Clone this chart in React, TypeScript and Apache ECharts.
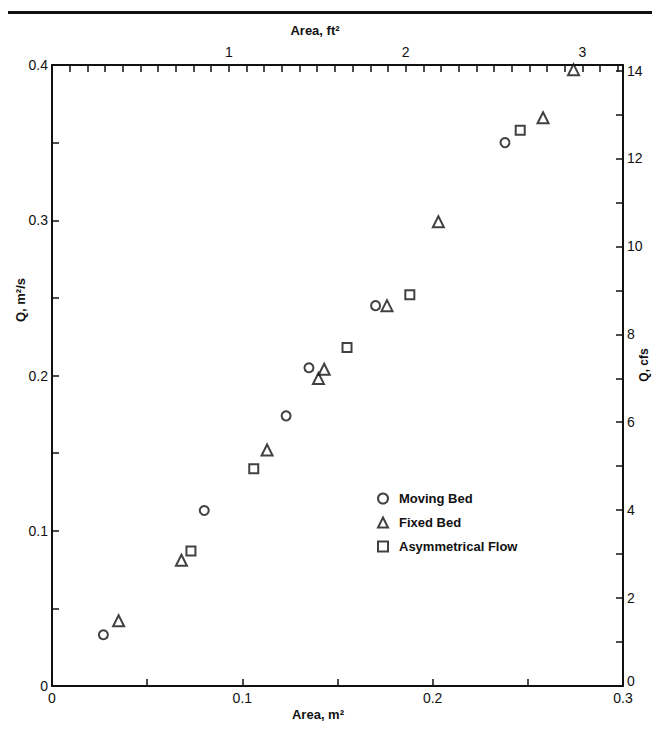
import React, { useEffect, useRef } from "react";
import * as echarts from "echarts";

// Flow area (m²) and discharge Q (m³/s) for each test series
const movingBedArea = [0.027, 0.08, 0.123, 0.135, 0.17, 0.238];
const movingBedQ = [0.033, 0.113, 0.174, 0.205, 0.245, 0.35];

const fixedBedArea = [0.035, 0.068, 0.113, 0.14, 0.143, 0.176, 0.203, 0.258, 0.274];
const fixedBedQ = [0.042, 0.081, 0.152, 0.198, 0.204, 0.245, 0.299, 0.366, 0.397];

const asymArea = [0.073, 0.106, 0.155, 0.188, 0.246];
const asymQ = [0.087, 0.14, 0.218, 0.252, 0.358];

const seriesNames = ["Moving Bed", "Fixed Bed", "Asymmetrical Flow"];

// Unit conversions for the secondary (imperial) axes
const M2_PER_FT2 = 0.09290304;
const M3S_PER_CFS = 0.0283168;
const AREA_MAX_M2 = 0.3;
const Q_MAX_M3S = 0.4;

const pairs = (xs: number[], ys: number[]) => xs.map((x, i) => [x, ys[i]]);

const FONT = "Liberation Sans";
const INK = "#111";

export default function App() {
  const ref = useRef<HTMLDivElement>(null);

  useEffect(() => {
    if (!ref.current) return;
    const chart = echarts.init(ref.current, null, { renderer: "svg" });

    const isStep = (v: number, step: number) =>
      Math.abs(v / step - Math.round(v / step)) < 1e-6;

    const axisLine = { show: true, onZero: false, lineStyle: { color: INK, width: 2 } };
    const axisTick = { show: true, inside: true, length: 7, lineStyle: { color: INK, width: 1.5 } };
    const labelStyle = { color: INK, fontFamily: FONT, fontSize: 14 };

    chart.setOption({
      animation: false,
      backgroundColor: "#fff",
      grid: { left: 52, top: 65, width: 571, height: 621, containLabel: false },
      xAxis: [
        {
          type: "value",
          position: "bottom",
          min: 0,
          max: AREA_MAX_M2,
          interval: 0.05,
          axisLine,
          axisTick,
          splitLine: { show: false },
          axisLabel: {
            ...labelStyle,
            margin: 5,
            formatter: (v: number) => (isStep(v, 0.1) ? (v === 0 ? "0" : v.toFixed(1)) : ""),
          },
        },
        {
          type: "value",
          position: "top",
          min: 0,
          max: AREA_MAX_M2 / M2_PER_FT2,
          interval: 0.1,
          axisLine,
          axisTick,
          splitLine: { show: false },
          axisLabel: {
            ...labelStyle,
            margin: 6,
            formatter: (v: number) => (v > 0.5 && isStep(v, 1) ? String(Math.round(v)) : ""),
          },
        },
      ],
      yAxis: [
        {
          type: "value",
          position: "left",
          min: 0,
          max: Q_MAX_M3S,
          interval: 0.05,
          axisLine,
          axisTick,
          splitLine: { show: false },
          axisLabel: {
            ...labelStyle,
            margin: 4,
            formatter: (v: number) => (isStep(v, 0.1) ? (v === 0 ? "0" : v.toFixed(1)) : ""),
          },
        },
        {
          type: "value",
          position: "right",
          min: 0,
          max: Q_MAX_M3S / M3S_PER_CFS,
          interval: 1,
          axisLine,
          axisTick,
          splitLine: { show: false },
          axisLabel: {
            ...labelStyle,
            margin: 4,
            // the zero label sits a little higher so it clears the bottom axis' 0.3
            formatter: (v: number) => {
              if (v === 0) return "{low|0}";
              return isStep(v, 2) && v < 14.05 ? String(Math.round(v)) : "";
            },
            rich: {
              low: { ...labelStyle, padding: [0, 0, 10, 0] },
            },
          },
        },
      ],
      legend: {
        orient: "vertical",
        left: 372,
        top: 487,
        itemWidth: 10,
        itemHeight: 10,
        itemGap: 11,
        data: seriesNames,
        textStyle: { color: INK, fontFamily: FONT, fontSize: 13, fontWeight: "bold", padding: [0, 0, 0, 6] },
      },
      graphic: [
        { type: "rect", shape: { x: 8, y: 11, width: 644, height: 3 }, style: { fill: INK } },
        {
          type: "text",
          x: 315,
          y: 30,
          style: { text: "Area, ft²", fill: INK, font: `bold 13px ${FONT}`, textAlign: "center", textVerticalAlign: "middle" },
        },
        {
          type: "text",
          x: 318,
          y: 714,
          style: { text: "Area, m²", fill: INK, font: `bold 13px ${FONT}`, textAlign: "center", textVerticalAlign: "middle" },
        },
        {
          type: "text",
          x: 20,
          y: 300,
          rotation: Math.PI / 2,
          style: { text: "Q, m²/s", fill: INK, font: `bold 13px ${FONT}`, textAlign: "center", textVerticalAlign: "middle" },
        },
        {
          type: "text",
          x: 644,
          y: 365,
          rotation: Math.PI / 2,
          style: { text: "Q, cfs", fill: INK, font: `bold 12px ${FONT}`, textAlign: "center", textVerticalAlign: "middle" },
        },
      ],
      series: [
        {
          name: seriesNames[0],
          type: "scatter",
          xAxisIndex: 0,
          yAxisIndex: 0,
          symbol: "emptyCircle",
          symbolSize: 9,
          itemStyle: { color: INK, borderWidth: 1.5 },
          data: pairs(movingBedArea, movingBedQ),
        },
        {
          name: seriesNames[1],
          type: "scatter",
          xAxisIndex: 0,
          yAxisIndex: 0,
          symbol: "emptyTriangle",
          symbolSize: 11,
          itemStyle: { color: INK, borderWidth: 1.5 },
          data: pairs(fixedBedArea, fixedBedQ),
        },
        {
          name: seriesNames[2],
          type: "scatter",
          xAxisIndex: 0,
          yAxisIndex: 0,
          symbol: "emptyRect",
          symbolSize: 9,
          itemStyle: { color: INK, borderWidth: 1.5 },
          data: pairs(asymArea, asymQ),
        },
      ],
    });

    return () => chart.dispose();
  }, []);

  return (
    <div
      ref={ref}
      style={{ position: "fixed", left: 0, top: 0, width: 652, height: 740, background: "#fff" }}
    />
  );
}
